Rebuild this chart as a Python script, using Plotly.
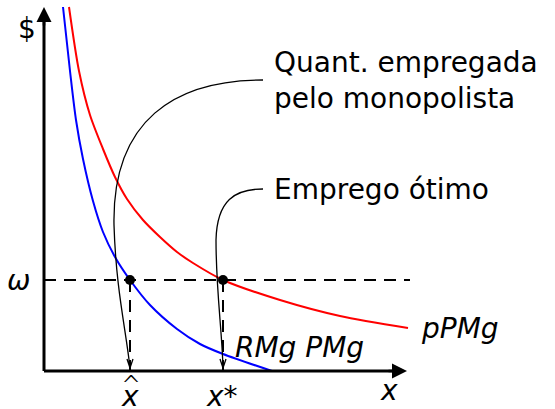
import plotly.graph_objects as go

# --- data (model units; origin at the axes' intersection) ---
pPMg_x = [25, 35, 46, 59, 71, 83, 99, 116, 133, 149, 179, 236, 296, 364]
pPMg_y = [364, 300, 256, 222, 194, 172, 151, 134, 119, 108, 91, 71, 55, 43]
RMgPMg_x = [19, 26, 32, 39, 49, 59, 71, 86, 106, 133, 156, 179, 228]
RMgPMg_y = [364, 300, 251, 212, 170, 139, 114, 91, 66, 42, 27, 17, 0]
omega = 91
x_hat = 86
x_star = 179
x_axis_end = 363
y_axis_end = 364
dash_end = 366

# connector paths (model units)
quant_path = [(219, 291), (131, 291), (68, 251), (70, 146), (72, 81), (82, 41), (86, 3)]
otimo_path = [(219, 182), (191, 182), (173, 171), (172, 131), (172, 81), (178, 41), (179, 3)]

FONT = "DejaVu Sans"
fig = go.Figure()

fig.add_trace(go.Scatter(x=pPMg_x, y=pPMg_y, mode="lines", line=dict(color="#ff0000", width=2, shape="spline", smoothing=0.8),
                         hoverinfo="skip", showlegend=False))
fig.add_trace(go.Scatter(x=RMgPMg_x, y=RMgPMg_y, mode="lines", line=dict(color="#0000ff", width=2, shape="spline", smoothing=0.8),
                         hoverinfo="skip", showlegend=False))
# dashed guides
fig.add_trace(go.Scatter(x=[0, dash_end], y=[omega, omega], mode="lines",
                         line=dict(color="black", width=2, dash="12px,8px"), showlegend=False, hoverinfo="skip"))
for xv in (x_hat, x_star):
    fig.add_trace(go.Scatter(x=[xv, xv], y=[omega, 0], mode="lines",
                             line=dict(color="black", width=2, dash="12px,8px"), showlegend=False, hoverinfo="skip"))
fig.add_trace(go.Scatter(x=[x_hat, x_star], y=[omega, omega], mode="markers",
                         marker=dict(color="black", size=10), showlegend=False, hoverinfo="skip"))


def cpath(p):
    s = "M {},{} C {},{} {},{} {},{} C {},{} {},{} {},{}".format(*[v for pt in p for v in pt])
    tx, ty = p[-1]
    s += " M {},{} L {},{} L {},{}".format(tx - 3, ty + 9, tx, ty, tx + 3, ty + 9)
    return s


for p in (quant_path, otimo_path):
    fig.add_shape(type="path", path=cpath(p), xref="x", yref="y", line=dict(color="black", width=1.3))

# axes with arrows
fig.add_shape(type="line", x0=0, y0=0, x1=x_axis_end - 6, y1=0, line=dict(color="black", width=3))
fig.add_shape(type="line", x0=0, y0=0, x1=0, y1=y_axis_end - 6, line=dict(color="black", width=3))
fig.add_annotation(x=x_axis_end, y=0, ax=x_axis_end - 20, ay=0, axref="x", ayref="y", xref="x", yref="y",
                   text="", showarrow=True, arrowhead=2, arrowsize=1.2, arrowwidth=2.5, arrowcolor="black")
fig.add_annotation(x=0, y=y_axis_end, ax=0, ay=y_axis_end - 20, axref="x", ayref="y", xref="x", yref="y",
                   text="", showarrow=True, arrowhead=2, arrowsize=1.2, arrowwidth=2.5, arrowcolor="black")

def label(x, y, text, xanchor="center", yanchor="middle", italic=False, size=28, weight="normal"):
    fig.add_annotation(x=x, y=y, xref="x", yref="y", text=text, showarrow=False, xanchor=xanchor, yanchor=yanchor,
                       font=dict(family=FONT, size=size, color="black", weight=weight,
                                 style="italic" if italic else "normal"),
                       align="left")

label(228, 291, "Quant. empregada<br>pelo monopolista", xanchor="left")
label(228, 182, "Emprego ótimo", xanchor="left")
label(-17, 343, "$")
label(-26, 91, "ω", italic=True)
label(86, -25, "x", italic=True)
label(87, -14, "^", size=24, weight=200)
label(178, -25, "x*", italic=True)
label(345, -19, "x", italic=True)
label(375, 43, "pPMg", xanchor="left", italic=True)
label(189, 24, "RMg PMg", xanchor="left", italic=True)

fig.update_layout(width=555, height=409, margin=dict(l=0, r=0, t=0, b=0),
                  plot_bgcolor="white", paper_bgcolor="white",
                  xaxis=dict(range=[-44, 511], visible=False, fixedrange=True),
                  yaxis=dict(range=[-38, 371], visible=False, fixedrange=True))
fig.write_html("out.html", config={"displayModeBar": False},
               post_script="document.body.style.margin='0';document.body.style.overflow='hidden';")
